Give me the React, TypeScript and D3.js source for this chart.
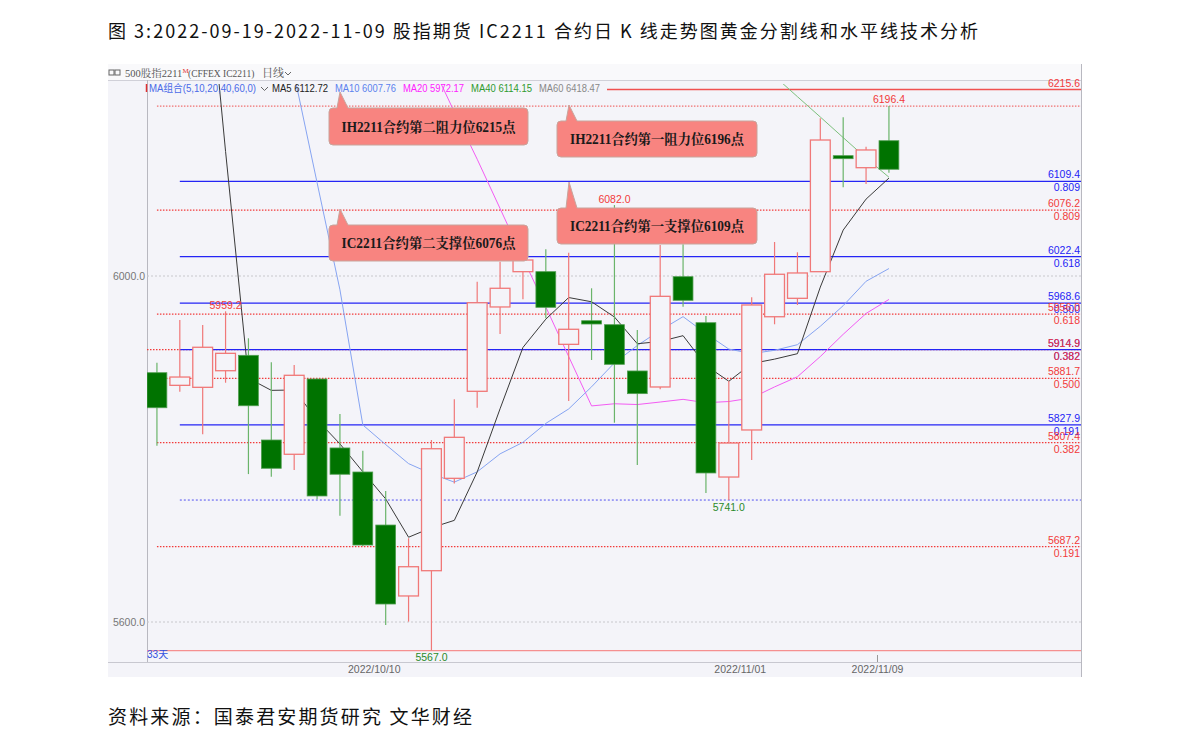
import React from "react";
import * as d3 from "d3";

// ---------- data ----------
const dates = [
  "2022-09-19","2022-09-20","2022-09-21","2022-09-22","2022-09-23",
  "2022-09-26","2022-09-27","2022-09-28","2022-09-29","2022-09-30",
  "2022-10-10","2022-10-11","2022-10-12","2022-10-13","2022-10-14",
  "2022-10-17","2022-10-18","2022-10-19","2022-10-20","2022-10-21",
  "2022-10-24","2022-10-25","2022-10-26","2022-10-27","2022-10-28",
  "2022-10-31","2022-11-01","2022-11-02","2022-11-03","2022-11-04",
  "2022-11-07","2022-11-08","2022-11-09",
];
const opens = [5888.2,5873.6,5871.3,5890.5,5908.3,5810.4,5793.9,5880.9,5801.2,5773.4,5712.1,5630.1,5659.3,5766.1,5866.7,5964.2,6005.0,6005.0,5921.0,5948.3,5943.7,5890.2,5871.7,5999.2,5946.0,5767.6,5822.0,5952.9,5974.2,6005.0,6139.1,6125.2,6156.4];
const highs = [5899.8,5949.1,5943.4,5959.2,5928.0,5900.2,5897.1,5881.5,5840.5,5798.0,5751.4,5696.8,5810.4,5857.5,5993.4,6016.5,6030.0,6030.9,6026.9,5985.8,6082.0,5937.6,6035.8,6036.6,5953.8,5878.6,5975.4,6039.3,6027.4,6182.3,6183.5,6149.5,6196.4];
const lows = [5803.8,5866.2,5817.0,5876.6,5771.0,5768.0,5775.7,5742.0,5722.9,5687.5,5596.5,5600.4,5567.0,5760.0,5847.7,5932.9,5973.0,5951.1,5855.5,5902.9,5830.4,5781.5,5869.0,5964.5,5749.1,5741.0,5787.3,5944.2,5966.5,6005.0,6102.5,6106.4,6119.4];
const closes = [5847.7,5883.2,5917.6,5910.6,5850.0,5777.7,5885.2,5745.7,5770.8,5689.0,5620.8,5663.9,5800.3,5813.5,5969.1,5985.8,6018.5,5963.8,5938.4,5944.5,5897.9,5864.0,5976.5,5971.9,5772.3,5806.9,5966.5,6002.0,6003.5,6157.2,6136.1,6145.7,6123.4];

const ma5 = [null,null,6420,6144,5881.8,5867.8,5868.2,5833.8,5805.9,5773.7,5742.3,5698.0,5709.0,5717.5,5773.5,5846.5,5917.4,5950.1,5975.1,5970.2,5952.6,5921.7,5924.3,5931.0,5896.5,5878.3,5898.8,5903.9,5910.2,5987.2,6053.1,6088.9,6113.2];
const ma10 = [null,null,null,null,null,null,6233,6108,5984,5827.8,5805.1,5783.1,5771.4,5761.7,5773.6,5794.4,5807.7,5829.6,5846.3,5871.9,5899.6,5919.6,5937.2,5953.0,5933.4,5915.5,5910.3,5914.1,5920.6,5941.9,5965.7,5993.9,6008.6];
const ma20 = [null,null,null,null,null,null,null,null,null,null,null,null,6246,6189.6,6135,6078,6020.8,5964.2,5906.9,5849.8,5852.3,5851.4,5854.3,5857.4,5853.5,5854.9,5859.0,5871.8,5883.5,5906.9,5932.6,5956.7,5972.9];
const ma40 = [null,null,null,null,null,null,null,null,null,null,null,null,null,null,null,null,null,null,null,null,null,null,null,null,null,null,null,6231,6207.3,6183.8,6160,6136.4,6114.2];

const legendLabels = ["MA组合(5,10,20,40,60,0)", "MA5 6112.72", "MA10 6007.76", "MA20 5972.17", "MA40 6114.15", "MA60 6418.47"];
const legendColors = ["#4a6be8", "#222222", "#5b82ee", "#ff22ff", "#2e9a2e", "#888888"];

const yTicks = [6000, 5600];

const blueLevels = [6109.4, 6022.4, 5968.6, 5914.9, 5827.9];
const blueRatios = ["0.809", "0.618", "0.500", "0.382", "0.191"];
const blueBase = 5741.0;
const redLevels = [6076.2, 5956.0, 5881.7, 5807.4, 5687.2];
const redRatios = ["0.809", "0.618", "0.500", "0.382", "0.191"];
const redTopLevel = 6196.4;
const redBase = 5567.0;
const extraRedLevel = 5914.9;
const extraRedRatio = "0.382";
const resistanceLevel = 6215.6;

const dateTicks = ["2022-10-10", "2022-11-01", "2022-11-09"];

const calloutTexts = [
  "IH2211合约第二阻力位6215点",
  "IH2211合约第一阻力位6196点",
  "IC2211合约第二支撑位6076点",
  "IC2211合约第一支撑位6109点",
];

const contractName = "500股指2211";
const contractMark = "M";
const contractCode = "(CFFEX  IC2211)";
const periodText = "日线";

const titleText = "图 3:2022-09-19-2022-11-09 股指期货 IC2211 合约日 K 线走势图黄金分割线和水平线技术分析";
const sourceText = "资料来源：国泰君安期货研究 文华财经";

// ---------- component ----------
export default function App() {
  const W = 1190, H = 748;
  const plotL = 147, plotR = 1081, plotT = 84, plotB = 662;

  const x = d3.scaleBand<string>().domain(dates).range([145.5, 145.5 + dates.length * 22.875]).paddingInner(0.09).paddingOuter(0.045);
  const bw = x.bandwidth();
  const cx = (d: string) => (x(d) as number) + bw / 2;
  const step = x.step();
  const y = d3.scaleLinear().domain([5600, 6000]).range([622, 276]);

  const sans = "'Liberation Sans', Arial, 'Noto Sans CJK SC', sans-serif";
  const serif = "'Liberation Serif', 'Noto Serif CJK SC', 'Noto Sans CJK SC', serif";
  const red = "#f23a3a";
  const blue = "#2424f5";
  const bg = "#f4f4f9";

  const maLine = (arr: (number | null)[]) =>
    d3.line<number | null>()
      .defined((d) => d != null)
      .x((_, i) => cx(dates[i]))
      .y((d) => y(d as number))(arr) || "";

  const firstX = cx(dates[0]);
  const secondX = cx(dates[1]);

  // callout layout
  const callBoxes = [
    { x: 329, y: 108, w: 199, h: 37, tipX: 340, tipY: 92 },
    { x: 557, y: 121, w: 200, h: 36, tipX: 569, tipY: 105 },
    { x: 329, y: 225, w: 199, h: 36, tipX: 340, tipY: 209 },
    { x: 557, y: 208, w: 200, h: 36, tipX: 569, tipY: 182 },
  ];

  const rightLabel = (v: number, ratio: string | null, color: string, key: string) => (
    <g key={key}>
      <text x={1080} y={y(v) - 3} textAnchor="end" fontSize={10.5} fill={color} fontFamily={sans}>{v.toFixed(1)}</text>
      {ratio && <text x={1080} y={y(v) + 10} textAnchor="end" fontSize={10.5} fill={color} fontFamily={sans}>{ratio}</text>}
    </g>
  );

  const legendX = [149, 272, 335, 403, 471, 539];
  const legendW = [107, 56, 61, 61, 61, 61];

  return (
    <svg width={W} height={H} style={{ position: "absolute", left: 0, top: 0, background: "#fff" }}>
      <defs>
        <clipPath id="plotClip">
          <rect x={plotL} y={plotT} width={plotR - plotL} height={plotB - plotT} />
        </clipPath>
      </defs>
      <rect x={0} y={0} width={W} height={H} fill="#fff" />

      {/* title */}
      <text x={108} y={38} fontSize={18} fontFamily={"'Noto Sans CJK SC', sans-serif"} fill="#111" textLength={870} lengthAdjust="spacing">{titleText}</text>

      {/* panel */}
      <rect x={108} y={64} width={plotR - 108} height={613} fill={bg} />
      <rect x={108} y={64} width={plotR - 108} height={16} fill="#f9f9fb" />
      <line x1={108} x2={plotR} y1={80.5} y2={80.5} stroke="#d0d0d8" />
      <line x1={plotL + 0.5} x2={plotL + 0.5} y1={80} y2={plotB} stroke="#b8b8c0" />
      <line x1={plotR + 0.5} x2={plotR + 0.5} y1={64} y2={677} stroke="#b8b8c0" />
      <line x1={108} x2={plotR} y1={plotB + 0.5} y2={plotB + 0.5} stroke="#c8c8d0" />

      {/* header */}
      <g fontFamily={serif} fill="#555">
        <rect x={109} y={70} width={5} height={5} fill="none" stroke="#666" />
        <rect x={115} y={70} width={5} height={5} fill="none" stroke="#666" />
        <text x={125} y={77} fontSize={10.5}>
          {contractName}
          <tspan fontSize={7} fill="#e03030" dy={-4}>{contractMark}</tspan>
        </text>
        <text x={188} y={77} fontSize={9.5}>{contractCode}</text>
        <text x={262} y={77} fontSize={11}>{periodText}</text>
        <path d="M285,72 l3,3 l3,-3" fill="none" stroke="#666" />
      </g>

      {/* y grid */}
      {yTicks.map((t) => (
        <g key={t}>
          <line x1={plotL} x2={plotR} y1={y(t)} y2={y(t)} stroke="#c8c8cc" strokeDasharray="2,2" />
          <text x={145} y={y(t) + 4} textAnchor="end" fontSize={10.5} fill="#777" fontFamily={sans}>{t.toFixed(1)}</text>
        </g>
      ))}

      {/* horizontal levels */}
      <line x1={firstX} x2={plotR} y1={y(redTopLevel)} y2={y(redTopLevel)} stroke="#f07070" strokeDasharray="1.5,1.5" strokeWidth={1.2} />
      <line x1={607} x2={plotR} y1={y(resistanceLevel)} y2={y(resistanceLevel)} stroke="#f05050" strokeWidth={1.3} />
      {rightLabel(resistanceLevel, null, red, "res")}
      <line x1={plotL} x2={plotR} y1={y(redBase)} y2={y(redBase)} stroke="#f59090" strokeWidth={1.3} />
      <line x1={plotL} x2={plotR} y1={y(extraRedLevel)} y2={y(extraRedLevel)} stroke={red} strokeDasharray="1.5,1.5" strokeWidth={1.2} />
      {redLevels.map((v) => (
        <line key={"rl" + v} x1={firstX} x2={plotR} y1={y(v)} y2={y(v)} stroke={red} strokeDasharray="1.5,1.5" strokeWidth={1.2} />
      ))}
      <line x1={secondX} x2={plotR} y1={y(blueBase)} y2={y(blueBase)} stroke="#5050f0" strokeDasharray="2,2" strokeWidth={1} />
      {blueLevels.map((v) => (
        <line key={"bl" + v} x1={secondX} x2={plotR} y1={y(v)} y2={y(v)} stroke={blue} strokeWidth={1.4} />
      ))}

      {/* MA lines */}
      <g clipPath="url(#plotClip)" fill="none" strokeWidth={1}>
        <path d={maLine(ma20)} stroke="#f35cf3" />
        <path d={maLine(ma10)} stroke="#86a4f2" />
        <path d={maLine(ma40)} stroke="#7cc07c" />
        <path d={maLine(ma5)} stroke="#3a3a3a" />
      </g>

      {/* candles */}
      <g clipPath="url(#plotClip)">
        {dates.map((d, i) => {
          const o = opens[i], c = closes[i], h = highs[i], l = lows[i];
          const up = c >= o;
          const xc = cx(d);
          const top = y(Math.max(o, c));
          const bot = y(Math.min(o, c));
          const bx = x(d) as number;
          if (up) {
            return (
              <g key={d}>
                <line x1={xc} x2={xc} y1={y(h)} y2={y(l)} stroke="#f07878" strokeWidth={1.2} />
                <rect x={bx + 0.5} y={top} width={bw - 1} height={Math.max(bot - top, 1)} fill={bg} stroke="#f07878" strokeWidth={1.3} />
              </g>
            );
          }
          return (
            <g key={d}>
              <line x1={xc} x2={xc} y1={y(h)} y2={y(l)} stroke="#6ab46a" strokeWidth={1.2} />
              <rect x={bx + 0.5} y={top} width={bw - 1} height={Math.max(bot - top, 3)} fill="#007300" stroke="#4f9e4f" strokeWidth={0.8} />
            </g>
          );
        })}
      </g>

      {/* high / low annotations */}
      <g fontFamily={sans} fontSize={10.5} textAnchor="middle">
        <text x={cx(dates[3])} y={y(highs[3]) - 2} fill={red}>{highs[3].toFixed(1)}</text>
        <text x={cx(dates[20])} y={y(highs[20]) - 2} fill={red}>{highs[20].toFixed(1)}</text>
        <text x={cx(dates[32])} y={y(highs[32]) - 3} fill={red}>{highs[32].toFixed(1)}</text>
        <text x={cx(dates[25])} y={y(lows[25]) + 11} fill="#2a8a2a">{lows[25].toFixed(1)}</text>
        <text x={cx(dates[12])} y={y(lows[12]) + 10} fill="#2a8a2a">{lows[12].toFixed(1)}</text>
      </g>

      {/* right labels */}
      {blueLevels.map((v, i) => rightLabel(v, blueRatios[i], blue, "bt" + v))}
      {redLevels.map((v, i) => rightLabel(v, redRatios[i], red, "rt" + v))}
      {rightLabel(extraRedLevel, extraRedRatio, red, "extra")}

      {/* legend */}
      <line x1={146.5} x2={146.5} y1={84} y2={92} stroke="#e03030" strokeWidth={1.5} />
      <g fontFamily={sans} fontSize={10.5}>
        {legendLabels.map((t, i) => (
          <text key={t} x={legendX[i]} y={92} fill={legendColors[i]} textLength={legendW[i]} lengthAdjust="spacingAndGlyphs">{t}</text>
        ))}
        <path d="M261,87 l3.5,3.5 l3.5,-3.5" fill="none" stroke="#666" />
      </g>

      {/* callouts */}
      {calloutTexts.map((t, i) => {
        const b = callBoxes[i];
        return (
          <g key={t}>
            <path
              d={`M${b.x + 4},${b.y} L${b.tipX - 3},${b.y} L${b.tipX},${b.tipY} L${b.tipX + 8},${b.y} L${b.x + b.w - 4},${b.y} Q${b.x + b.w},${b.y} ${b.x + b.w},${b.y + 4} L${b.x + b.w},${b.y + b.h - 4} Q${b.x + b.w},${b.y + b.h} ${b.x + b.w - 4},${b.y + b.h} L${b.x + 4},${b.y + b.h} Q${b.x},${b.y + b.h} ${b.x},${b.y + b.h - 4} L${b.x},${b.y + 4} Q${b.x},${b.y} ${b.x + 4},${b.y} Z`}
              fill="#f88480"
              stroke="#c8a49c"
              strokeWidth={1}
            />
            <text x={b.x + b.w / 2} y={b.y + b.h / 2 + 5} textAnchor="middle" fontSize={14} fontWeight="bold" fill="#1a1a1a" fontFamily={serif} textLength={174} lengthAdjust="spacingAndGlyphs">{t}</text>
          </g>
        );
      })}

      {/* bottom */}
      <text x={147} y={658} fontSize={10} fill="#3050e0" fontFamily={sans}>{dates.length}天</text>
      {dateTicks.map((d, i) => {
        const xp = cx(d) - step / 2;
        return (
          <g key={d}>
            {i === dateTicks.length - 1 && <line x1={xp} x2={xp} y1={655} y2={662} stroke="#999" />}
            <text x={xp} y={673} textAnchor="middle" fontSize={10.5} fill="#666" fontFamily={sans}>{d.replace(/-/g, "/")}</text>
          </g>
        );
      })}

      {/* source */}
      <text x={108} y={724} fontSize={19} fontFamily={"'Noto Sans CJK SC', sans-serif"} fill="#111" textLength={364} lengthAdjust="spacing">{sourceText}</text>
    </svg>
  );
}
